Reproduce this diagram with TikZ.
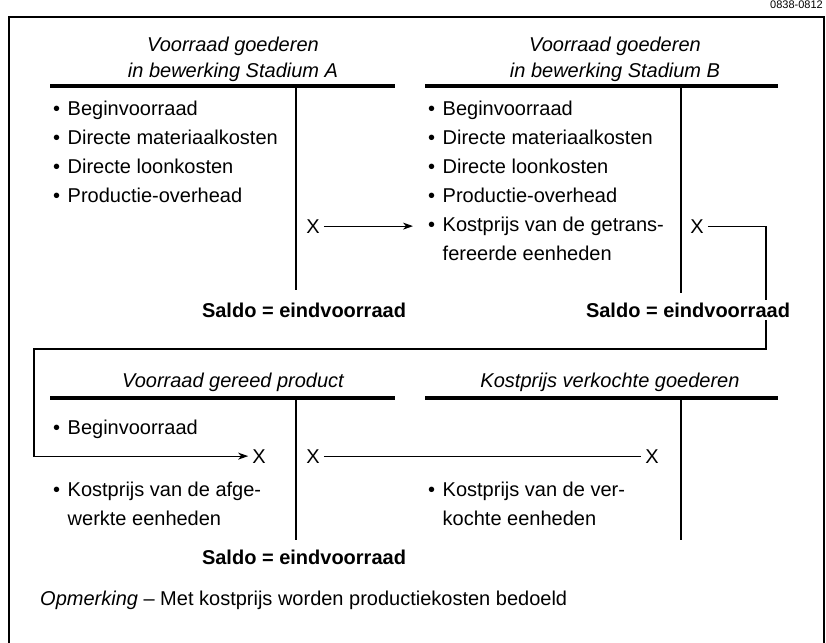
\documentclass[tikz,border=0pt]{standalone}
\usepackage{fontspec}
\setmainfont{Liberation Sans}
\usetikzlibrary{arrows.meta}

\newcommand{\itembul}{•\hspace{7.5pt}}

\tikzset{
  acctitle/.style={font=\fontsize{20}{25}\selectfont\itshape, anchor=base, inner sep=0pt},
  item/.style={font=\fontsize{20}{25}\selectfont, anchor=base west, inner sep=0pt},
  xmark/.style={font=\fontsize{20}{25}\selectfont, anchor=base, inner sep=4pt},
  saldo/.style={font=\fontsize{20}{25}\selectfont\bfseries, anchor=base, fill=white, inner sep=3pt},
  tbar/.style={line width=3.5pt},
  tstem/.style={line width=1.3pt},
  flow/.style={line width=1.2pt},
  tip/.style={-{Stealth[length=10pt,width=7pt,inset=3pt]}},
}

\begin{document}
\begin{tikzpicture}[x=1pt,y=-1pt]
\useasboundingbox (0,0) rectangle (826,642);

% frame and code
\draw[line width=1.3pt] (9,660) -- (9,17) -- (824,17) -- (824,660);
\node[font=\fontsize{11}{13}\selectfont, anchor=base east, inner sep=0pt] (code) at (823,9) {0838-0812};

%% Stadium A
\node[acctitle] (titA1) at (233,52) {Voorraad goederen};
\node[acctitle] (titA2) at (233,77) {in bewerking Stadium A};
\draw[tbar] (50,86) -- (395,86);
\draw[tstem] (296,86) -- (296,290);
\foreach \txt [count=\i] in {Beginvoorraad, Directe materiaalkosten, Directe loonkosten, Productie-overhead}
  \node[item] (A\i) at (53,86+29*\i) {\itembul\txt};
\node[xmark] (xA) at (313,233) {X};
\node[saldo] (saldoA) at (304,317) {Saldo = eindvoorraad};

%% Stadium B
\node[acctitle] (titB1) at (615,52) {Voorraad goederen};
\node[acctitle] (titB2) at (615,77) {in bewerking Stadium B};
\draw[tbar] (425,86) -- (778,86);
\draw[tstem] (681,86) -- (681,293);
\foreach \txt [count=\i] in {Beginvoorraad, Directe materiaalkosten, Directe loonkosten, Productie-overhead, Kostprijs van de getrans-}
  \node[item] (B\i) at (428,86+29*\i) {\itembul\txt};
\node[item] (B6) at (428,260) {\phantom{\itembul}fereerde eenheden};
\node[xmark] (xB) at (697,233) {X};

% A to B
\draw[flow, tip, shorten >=15pt] (xA.east) -- (xA.east -| B5.west);

%% Voorraad gereed product
\node[acctitle] (titC) at (233,387) {Voorraad gereed product};
\draw[tbar] (50,398) -- (395,398);
\draw[tstem] (296,398) -- (296,540);
\node[item] (C1) at (53,434) {\itembul Beginvoorraad};
\node[xmark] (xC1) at (259,463) {X};
\node[xmark] (xC2) at (313,463) {X};
\node[item] (C2) at (53,496) {\itembul Kostprijs van de afge-};
\node[item] (C3) at (53,525) {\phantom{\itembul}werkte eenheden};
\node[saldo] (saldoC) at (304,564) {Saldo = eindvoorraad};

%% Kostprijs verkochte goederen
\node[acctitle] (titD) at (610,387) {Kostprijs verkochte goederen};
\draw[tbar] (425,398) -- (778,398);
\draw[tstem] (681,398) -- (681,540);
\node[xmark] (xD) at (652,463) {X};
\node[item] (D1) at (428,496) {\itembul Kostprijs van de ver-};
\node[item] (D2) at (428,525) {\phantom{\itembul}kochte eenheden};

% B to gereed product, gereed product to verkocht
\coordinate (turnR) at (766,349);
\coordinate (turnL) at (34,349);
\draw[flow, tip] (xB.east) -| (turnR) -- (turnL) |- (xC1.west);
\draw[flow] (xC2.east) -- (xD.west);
\node[saldo] (saldoB) at (688,317) {Saldo = eindvoorraad};

\node[item] (note) at (40,605) {\textit{Opmerking} – Met kostprijs worden productiekosten bedoeld};

\end{tikzpicture}
\end{document}
